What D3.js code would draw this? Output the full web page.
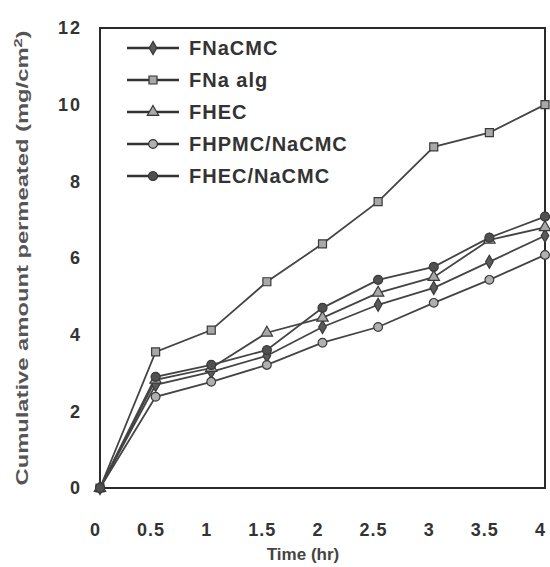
<!DOCTYPE html>
<html>
<head>
<meta charset="utf-8">
<script src="https://cdn.jsdelivr.net/npm/d3@7"></script>
<style>
  body { margin: 0; background: #fff; }
  svg { font-family: "Liberation Sans", Arial, sans-serif; font-weight: bold; }
</style>
</head>
<body>
<div id="chart"></div>
<script>
// time points (hr)
const times = [0, 0.5, 1, 1.5, 2, 2.5, 3, 3.5, 4];

// cumulative amount permeated (mg/cm2)
const fNaCMC     = [0, 2.69, 3.03, 3.45, 4.20, 4.78, 5.22, 5.90, 6.58];
const fNaAlg     = [0, 3.55, 4.12, 5.38, 6.37, 7.47, 8.90, 9.27, 10.0];
const fHEC       = [0, 2.82, 3.13, 4.05, 4.44, 5.09, 5.50, 6.47, 6.80];
const fHPMCNaCMC = [0, 2.38, 2.77, 3.21, 3.79, 4.20, 4.83, 5.43, 6.08];
const fHECNaCMC  = [0, 2.90, 3.21, 3.60, 4.70, 5.43, 5.77, 6.53, 7.08];

const seriesNames = ["FNaCMC", "FNa alg", "FHEC", "FHPMC/NaCMC", "FHEC/NaCMC"];
const seriesValues = [fNaCMC, fNaAlg, fHEC, fHPMCNaCMC, fHECNaCMC];

const xTicks = [0, 0.5, 1, 1.5, 2, 2.5, 3, 3.5, 4];
const yTicks = [0, 2, 4, 6, 8, 10, 12];

const width = 550;
const height = 567;
const margin = {top: 28, right: 5, bottom: 79, left: 100};

const svg = d3.select("#chart")
    .append("svg")
    .attr("width", width)
    .attr("height", height);

const xScale = d3.scaleLinear()
    .domain([0, 4])
    .range([margin.left, width - margin.right]);

const yScale = d3.scaleLinear()
    .domain([0, 12])
    .range([height - margin.bottom, margin.top]);

//marker per series
const symbolFor = {
    "FNaCMC": d3.symbolDiamond,
    "FNa alg": d3.symbolSquare,
    "FHEC": d3.symbolTriangle,
    "FHPMC/NaCMC": d3.symbolCircle,
    "FHEC/NaCMC": d3.symbolCircle
};
const fillFor = {
    "FNaCMC": "#5a5a5a",
    "FNa alg": "#a8a8a8",
    "FHEC": "#a8a8a8",
    "FHPMC/NaCMC": "#b0b0b0",
    "FHEC/NaCMC": "#505050"
};
const sizeFor = {
    "FNaCMC": 50,
    "FNa alg": 64,
    "FHEC": 56,
    "FHPMC/NaCMC": 60,
    "FHEC/NaCMC": 64
};

//frame
svg.append("rect")
    .attr("x", xScale(0))
    .attr("y", yScale(12))
    .attr("width", xScale(4) - xScale(0))
    .attr("height", yScale(0) - yScale(12))
    .attr("fill", "none")
    .attr("stroke", "#2a2a2a")
    .attr("stroke-width", 2);

//axes
const bottomAxis = d3.axisBottom(xScale)
    .tickValues(xTicks)
    .tickSize(0)
    .tickPadding(35)
    .tickFormat(d => d);

svg.append("g")
    .attr("transform", `translate(0, ${yScale(0)})`)
    .call(bottomAxis)
    .call(g => g.select(".domain").remove())
    .selectAll("text")
        .attr("dx", -5)
        .attr("font-size", 18)
        .attr("font-weight", "bold")
        .attr("fill", "#333")
        .attr("letter-spacing", 1)
        .attr("font-family", "Liberation Sans, Arial, sans-serif");

const leftAxis = d3.axisLeft(yScale)
    .tickValues(yTicks)
    .tickSize(0)
    .tickPadding(18);

svg.append("g")
    .attr("transform", `translate(${xScale(0)}, 0)`)
    .call(leftAxis)
    .call(g => g.select(".domain").remove())
    .selectAll("text")
        .attr("font-size", 18)
        .attr("font-weight", "bold")
        .attr("fill", "#333")
        .attr("letter-spacing", 2)
        .attr("font-family", "Liberation Sans, Arial, sans-serif");

//axis titles
svg.append("text")
    .text("Time (hr)")
    .attr("x", 303)
    .attr("y", 560)
    .attr("text-anchor", "middle")
    .attr("font-size", 17)
    .attr("fill", "#444");

const yTitle = svg.append("text")
    .attr("transform", `translate(28, ${(yScale(0) + yScale(12)) / 2}) rotate(-90)`)
    .attr("text-anchor", "middle")
    .attr("font-size", 16)
    .attr("fill", "#555")
    .attr("textLength", 455)
    .attr("lengthAdjust", "spacingAndGlyphs");
yTitle.append("tspan").text("Cumulative amount permeated (mg/cm");
yTitle.append("tspan").text("2").attr("dy", -6).attr("font-size", 11);
yTitle.append("tspan").text(")").attr("dy", 6);

//lines and markers
const lineGen = d3.line()
    .x((d, i) => xScale(times[i]))
    .y(d => yScale(d));

const seriesGroup = svg.append("g");

seriesNames.forEach((name, k) => {
    const values = seriesValues[k];
    seriesGroup.append("path")
        .attr("d", lineGen(values))
        .attr("fill", "none")
        .attr("stroke", "#444")
        .attr("stroke-width", 1.8);
});

seriesNames.forEach((name, k) => {
    const values = seriesValues[k];
    seriesGroup.selectAll(null)
        .data(values)
        .join("path")
            .attr("d", d3.symbol().type(symbolFor[name]).size(sizeFor[name]))
            .attr("transform", (d, i) => `translate(${xScale(times[i])}, ${yScale(d)})`)
            .attr("fill", fillFor[name])
            .attr("stroke", "#3a3a3a")
            .attr("stroke-width", 1.2);
});

//legend
const legend = svg.append("g")
    .attr("transform", "translate(127, 48)");

const legendItem = legend.selectAll("g")
    .data(seriesNames)
    .join("g")
        .attr("transform", (d, i) => `translate(0, ${i * 32})`);

legendItem.append("line")
    .attr("x1", 0)
    .attr("x2", 52)
    .attr("stroke", "#333")
    .attr("stroke-width", 2.5);

legendItem.append("path")
    .attr("d", d => d3.symbol().type(symbolFor[d]).size(sizeFor[d])())
    .attr("transform", "translate(26, 0)")
    .attr("fill", d => fillFor[d])
    .attr("stroke", "#333")
    .attr("stroke-width", 1.2);

legendItem.append("text")
    .text(d => d)
    .attr("x", 62)
    .attr("y", 7)
    .attr("font-size", 20)
    .attr("letter-spacing", 1)
    .attr("fill", "#333");
</script>
</body>
</html>
